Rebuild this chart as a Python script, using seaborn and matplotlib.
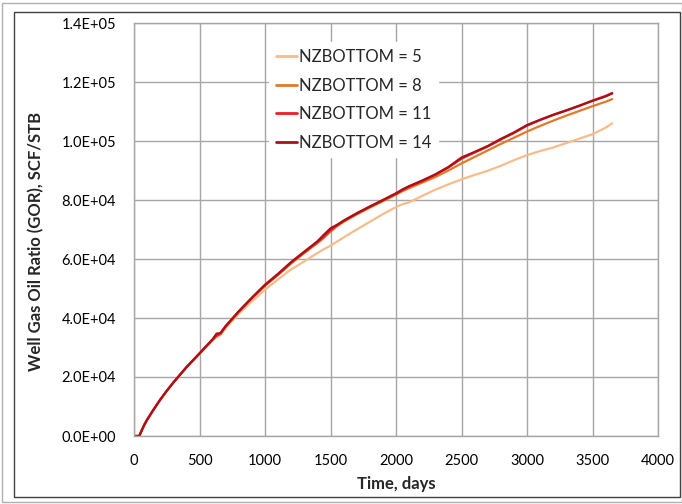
import matplotlib
matplotlib.use("Agg")
import matplotlib.pyplot as plt
from matplotlib.patches import Rectangle
import numpy as np
import pandas as pd
import seaborn as sns

# Simulation time, days
days = [0, 40, 60, 80, 100, 150, 200, 250, 300, 400, 500, 600, 630, 660,
        700, 800, 900, 1000, 1100, 1200, 1300, 1400, 1440, 1500, 1550, 1600,
        1700, 1800, 1900, 2000, 2050, 2100, 2200, 2300, 2400, 2500, 2600,
        2700, 2800, 2900, 3000, 3100, 3200, 3300, 3400, 3500, 3600, 3650]

# Well gas-oil ratio, SCF/STB, for each bottom-layer count
gor_nz5 = [0, 0, 2000, 3900, 5500, 9000, 12300, 15300, 18100, 23200, 27800,
           32400, 33600, 34200, 36600, 41400, 45600, 49600, 53100, 56500,
           59200, 62000, 63100, 64500, 65900, 67300, 70000, 72600, 75200,
           77600, 78600, 79200, 81400, 83500, 85300, 87000, 88500, 89900,
           91600, 93500, 95200, 96600, 97800, 99300, 100800, 102300, 104500,
           106000]
gor_nz8 = [0, 0, 2000, 3900, 5500, 9000, 12300, 15300, 18100, 23300, 27900,
           32600, 33800, 34500, 37000, 42000, 46600, 50900, 54600, 58500,
           62000, 65400, 66800, 69300, 71100, 72600, 75100, 77400, 79600,
           81800, 83000, 84000, 85900, 87800, 90000, 92400, 94600, 96800,
           99000, 101100, 103200, 105100, 106900, 108600, 110200, 111800,
           113300, 114200]
gor_nz11 = [0, 0, 2000, 3900, 5500, 9000, 12300, 15300, 18100, 23300, 28000,
            32700, 34000, 34800, 37200, 42200, 46800, 51100, 54800, 58800,
            62300, 65700, 67200, 69700, 71400, 72900, 75400, 77700, 79900,
            82100, 83400, 84500, 86400, 88500, 91000, 94000, 96100, 98100,
            100500, 102700, 105200, 107100, 108800, 110300, 111900, 113700,
            115300, 116300]
gor_nz14 = [0, 0, 2000, 3900, 5500, 9000, 12300, 15300, 18100, 23300, 28000,
            32800, 34700, 34900, 37300, 42300, 46900, 51300, 55000, 59000,
            62500, 66000, 67800, 70400, 71600, 73000, 75500, 77800, 80000,
            82300, 83600, 84700, 86600, 88700, 91200, 94400, 96300, 98300,
            100700, 102900, 105400, 107200, 108900, 110400, 112000, 113600,
            115100, 116100]

labels = ["NZBOTTOM = 5", "NZBOTTOM = 8", "NZBOTTOM = 11", "NZBOTTOM = 14"]
colors = ["#F8BC8C", "#E07A26", "#EE1D24", "#A8111A"]

frames = []
for lab, vals in zip(labels, [gor_nz5, gor_nz8, gor_nz11, gor_nz14]):
    frames.append(pd.DataFrame({"Time": days, "GOR": vals, "Case": lab}))
df = pd.concat(frames, ignore_index=True)

sns.set_style("white")
plt.rcParams["font.family"] = ["Lato", "DejaVu Sans"]

fig = plt.figure(figsize=(6.82, 5.04), dpi=100)
ax = fig.add_axes([134 / 682, 1 - 436 / 504, 524 / 682, 413 / 504])

sns.lineplot(data=df, x="Time", y="GOR", hue="Case", hue_order=labels,
             palette=colors, linewidth=1.6, ax=ax, sort=False)

grid_c = "#A6A6A6"
ax.set_xlim(0, 4000)
ax.set_ylim(0, 140000)
ax.set_xticks(np.arange(0, 4001, 500))
ax.set_yticks(np.arange(0, 140001, 20000))
ax.set_yticklabels([f"{v:.1E}" for v in np.arange(0, 140001, 20000)])
ax.grid(True, color=grid_c, linewidth=1.0)
ax.set_axisbelow(True)
for s in ax.spines.values():
    s.set_color(grid_c)
    s.set_linewidth(1.0)
ax.tick_params(axis="both", which="major", direction="out", length=5,
               width=1.0, color=grid_c, labelsize=10.5, labelcolor="black",
               pad=8)

ax.set_xlabel("Time, days", fontsize=12, fontweight="bold")
ax.set_ylabel("Well Gas Oil Ratio (GOR), SCF/STB", fontsize=12,
              fontweight="bold")
ax.xaxis.set_label_coords(0.5, -0.098)
ax.yaxis.set_label_coords(-0.172, 0.47)

leg = ax.legend(loc="upper left", bbox_to_anchor=(0.242, 0.973),
                frameon=True, fancybox=False, edgecolor="white",
                facecolor="white", framealpha=1.0, fontsize=12,
                handlelength=1.3, handletextpad=0.1, labelspacing=0.75,
                borderpad=0.4)
for line in leg.get_lines():
    line.set_linewidth(2.0)

# Chart frame
fig.patches.append(Rectangle((14 / 682, 1 - 497 / 504), 666 / 682, 485 / 504,
                             transform=fig.transFigure, fill=False,
                             edgecolor="#404040", linewidth=1.0))
fig.patches.append(Rectangle((2 / 682, 1 - 502 / 504), 680 / 682, 499 / 504,
                             transform=fig.transFigure, fill=False,
                             edgecolor="#B0B0B0", linewidth=1.0))

fig.savefig("out.png", dpi=100)
